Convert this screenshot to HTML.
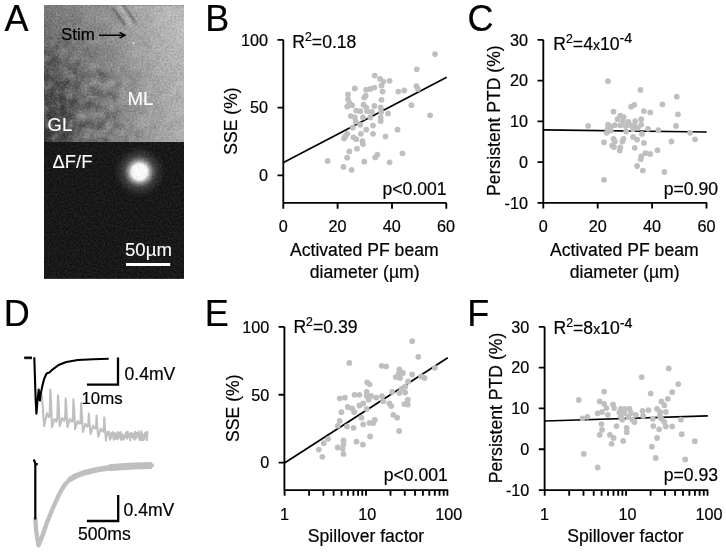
<!DOCTYPE html>
<html><head><meta charset="utf-8"><title>Figure</title>
<style>
html,body{margin:0;padding:0;background:#fff;}
svg{display:block;will-change:transform;}
text{font-family:"Liberation Sans",Arial,sans-serif;fill:#000;stroke:#000;stroke-width:.2px;}
.t{font-size:16.2px;}
.l{font-size:17.6px;}
.P{font-size:36px;}
.w{font-size:18.4px;fill:#fff;stroke:#fff;stroke-width:.1px;}
.ax{stroke:#000;stroke-width:1.85;fill:none;}
.ln{stroke:#000;stroke-width:1.7;fill:none;}
</style></head><body>
<svg width="726" height="552" viewBox="0 0 726 552">
<defs>
<linearGradient id="gT" x1="0" y1="0" x2="1" y2="0">
<stop offset="0" stop-color="#787878"/><stop offset="0.15" stop-color="#818181"/><stop offset="0.5" stop-color="#969696"/><stop offset="0.85" stop-color="#b6b6b6"/><stop offset="1" stop-color="#bcbcbc"/>
</linearGradient>
<linearGradient id="gB" x1="0" y1="0" x2="1" y2="0">
<stop offset="0" stop-color="#3c3c3c"/><stop offset="0.12" stop-color="#4c4c4c"/><stop offset="0.3" stop-color="#686868"/><stop offset="0.5" stop-color="#808080"/><stop offset="0.75" stop-color="#9c9c9c"/><stop offset="1" stop-color="#aeaeae"/>
</linearGradient>
<linearGradient id="gM" x1="0" y1="0" x2="0" y2="1"><stop offset="0" stop-color="#fff" stop-opacity="0"/><stop offset="0.15" stop-color="#fff" stop-opacity=".12"/><stop offset="0.5" stop-color="#fff" stop-opacity=".62"/><stop offset="0.8" stop-color="#fff" stop-opacity=".95"/><stop offset="1" stop-color="#fff" stop-opacity="1"/></linearGradient>
<mask id="mk" maskUnits="userSpaceOnUse" x="44" y="5" width="140" height="138"><rect x="44" y="5" width="140" height="138" fill="url(#gM)"/></mask>
<radialGradient id="spot"><stop offset="0" stop-color="#fff" stop-opacity="1"/><stop offset="0.3" stop-color="#f4f4f4" stop-opacity="1"/><stop offset="0.42" stop-color="#bbb" stop-opacity=".8"/><stop offset="0.6" stop-color="#777" stop-opacity=".45"/><stop offset="1" stop-color="#444" stop-opacity="0"/></radialGradient>
<filter id="nz" x="0" y="0" width="100%" height="100%" color-interpolation-filters="sRGB"><feTurbulence type="fractalNoise" baseFrequency="0.55" numOctaves="2" seed="3" result="n"/><feColorMatrix in="n" type="matrix" values="1 0 0 0 0  1 0 0 0 0  1 0 0 0 0  0 0 0 0 1" result="g"/><feComposite in="SourceGraphic" in2="g" operator="arithmetic" k1="0" k2="1" k3="0.26" k4="-0.13" result="c1"/><feTurbulence type="fractalNoise" baseFrequency="0.085" numOctaves="3" seed="11" result="n2"/><feColorMatrix in="n2" type="matrix" values="1 0 0 0 0  1 0 0 0 0  1 0 0 0 0  0 0 0 0 1" result="g2"/><feComposite in="c1" in2="g2" operator="arithmetic" k1="0" k2="1" k3="0.1" k4="-0.05"/></filter>
<filter id="nz2" x="0" y="0" width="100%" height="100%" color-interpolation-filters="sRGB"><feTurbulence type="fractalNoise" baseFrequency="0.5" numOctaves="2" seed="8" result="n"/><feColorMatrix in="n" type="matrix" values="1 0 0 0 0  1 0 0 0 0  1 0 0 0 0  0 0 0 0 1" result="g"/><feComposite in="SourceGraphic" in2="g" operator="arithmetic" k1="0" k2="1" k3="0.16" k4="-0.08"/></filter>
<filter id="lf" x="0" y="0" width="100%" height="100%" color-interpolation-filters="sRGB"><feTurbulence type="fractalNoise" baseFrequency="0.1" numOctaves="3" seed="5" result="n"/><feColorMatrix in="n" type="matrix" values="0 0 0 0 1  0 0 0 0 1  0 0 0 0 1  0.75 0 0 0 -0.375" result="L"/><feColorMatrix in="n" type="matrix" values="0 0 0 0 0  0 0 0 0 0  0 0 0 0 0  -0.9 0 0 0 0.45" result="D"/><feMerge><feMergeNode in="L"/><feMergeNode in="D"/></feMerge></filter>
<radialGradient id="gL" cx="0.1" cy="0.8" r="0.75"><stop offset="0" stop-color="#fff" stop-opacity="1"/><stop offset="0.5" stop-color="#fff" stop-opacity=".8"/><stop offset="0.8" stop-color="#fff" stop-opacity=".25"/><stop offset="1" stop-color="#fff" stop-opacity="0"/></radialGradient>
<mask id="mkL" maskUnits="userSpaceOnUse" x="44" y="5" width="140" height="138"><rect x="44" y="5" width="140" height="138" fill="url(#gL)"/></mask>
<filter id="bl"><feGaussianBlur stdDeviation="1.1"/></filter>
</defs>
<rect width="726" height="552" fill="#fff"/>

<g filter="url(#nz)"><rect x="44" y="5.3" width="140" height="137.2" fill="url(#gT)"/><rect x="44" y="5.3" width="140" height="137.2" fill="url(#gB)" mask="url(#mk)"/><g mask="url(#mkL)"><rect x="44" y="5.3" width="140" height="137.2" fill="#000" filter="url(#lf)"/></g><g filter="url(#bl)"><path d="M116 5.3L122.5 5.3L133.5 23L130 27Z" fill="#c4c4c4" opacity=".55"/><path d="M112.5 8L125.5 25.5" stroke="#484848" stroke-width="1.6" opacity=".8"/><path d="M123 5.5L135.7 23.5" stroke="#444" stroke-width="1.8" opacity=".85"/><circle cx="68" cy="88" r="5" fill="#fff" opacity=".08"/><circle cx="80" cy="119" r="6" fill="#fff" opacity=".12"/><circle cx="86" cy="133" r="6" fill="#fff" opacity=".12"/><circle cx="60" cy="100" r="7" fill="#000" opacity=".1"/><circle cx="139" cy="118" r="5" fill="#fff" opacity=".08"/><circle cx="75" cy="105" r="5" fill="#000" opacity=".1"/></g></g>
<g filter="url(#nz2)"><rect x="44" y="142" width="140" height="136.8" fill="#191919"/><circle cx="139.5" cy="171.8" r="26" fill="url(#spot)"/></g>
<circle cx="133.6" cy="43.1" r="1.3" fill="#e4e4e4" opacity=".75"/>
<text class="P" x="4.4" y="30.6">A</text>
<text class="t" x="61" y="39.9" style="font-size:16.9px">Stim</text>
<path class="ln" style="stroke-width:1.45" d="M99 35.2H124.6M119.6 32.4L125 35.2L119.6 38"/>
<text class="w" x="127.4" y="104.9" style="font-size:18.7px">ML</text>
<text class="w" x="47.6" y="130.8">GL</text>
<text class="w" x="52.5" y="167.5" style="font-size:18.4px">ΔF/F</text>
<text class="w" x="125" y="255.8" style="font-size:18.6px">50µm</text>
<rect x="126" y="263" width="44.2" height="3" fill="#fff"/>
<text class="P" x="205.2" y="30.6">B</text>
<path class="ln" d="M283.5 162.6L446.7 77.2"/>
<g fill="#bfbfbf"><circle cx="435.0" cy="54.1" r="2.9"/><circle cx="416.8" cy="69.3" r="2.9"/><circle cx="374.7" cy="75.6" r="2.9"/><circle cx="380.1" cy="78.9" r="2.9"/><circle cx="383.4" cy="81.6" r="2.9"/><circle cx="389.6" cy="80.8" r="2.9"/><circle cx="381.5" cy="85.7" r="2.9"/><circle cx="416.5" cy="86.2" r="2.9"/><circle cx="417.9" cy="88.9" r="2.9"/><circle cx="354.8" cy="88.4" r="2.9"/><circle cx="366.2" cy="89.7" r="2.9"/><circle cx="370.3" cy="88.9" r="2.9"/><circle cx="374.4" cy="87.6" r="2.9"/><circle cx="382.6" cy="91.6" r="2.9"/><circle cx="398.3" cy="91.6" r="2.9"/><circle cx="404.3" cy="90.5" r="2.9"/><circle cx="348.0" cy="94.3" r="2.9"/><circle cx="365.7" cy="95.7" r="2.9"/><circle cx="364.3" cy="97.6" r="2.9"/><circle cx="348.0" cy="99.2" r="2.9"/><circle cx="381.5" cy="99.8" r="2.9"/><circle cx="349.4" cy="103.0" r="2.9"/><circle cx="352.1" cy="105.2" r="2.9"/><circle cx="347.2" cy="106.6" r="2.9"/><circle cx="363.5" cy="104.7" r="2.9"/><circle cx="366.2" cy="107.4" r="2.9"/><circle cx="374.4" cy="106.0" r="2.9"/><circle cx="380.7" cy="107.4" r="2.9"/><circle cx="411.4" cy="105.2" r="2.9"/><circle cx="356.2" cy="110.7" r="2.9"/><circle cx="360.3" cy="111.2" r="2.9"/><circle cx="367.1" cy="111.2" r="2.9"/><circle cx="372.0" cy="112.0" r="2.9"/><circle cx="381.2" cy="112.0" r="2.9"/><circle cx="388.0" cy="113.4" r="2.9"/><circle cx="430.1" cy="115.3" r="2.9"/><circle cx="350.8" cy="116.1" r="2.9"/><circle cx="354.8" cy="117.4" r="2.9"/><circle cx="363.0" cy="117.4" r="2.9"/><circle cx="370.3" cy="117.4" r="2.9"/><circle cx="380.7" cy="117.4" r="2.9"/><circle cx="355.7" cy="121.5" r="2.9"/><circle cx="380.7" cy="121.0" r="2.9"/><circle cx="360.3" cy="124.8" r="2.9"/><circle cx="373.0" cy="125.6" r="2.9"/><circle cx="352.7" cy="127.5" r="2.9"/><circle cx="366.2" cy="129.7" r="2.9"/><circle cx="397.5" cy="129.7" r="2.9"/><circle cx="347.2" cy="133.8" r="2.9"/><circle cx="360.8" cy="133.8" r="2.9"/><circle cx="373.0" cy="133.8" r="2.9"/><circle cx="345.3" cy="136.5" r="2.9"/><circle cx="344.0" cy="138.6" r="2.9"/><circle cx="353.5" cy="137.3" r="2.9"/><circle cx="356.2" cy="139.2" r="2.9"/><circle cx="385.5" cy="136.5" r="2.9"/><circle cx="362.4" cy="141.1" r="2.9"/><circle cx="363.0" cy="144.1" r="2.9"/><circle cx="357.0" cy="148.7" r="2.9"/><circle cx="349.4" cy="151.4" r="2.9"/><circle cx="402.4" cy="153.3" r="2.9"/><circle cx="377.4" cy="154.7" r="2.9"/><circle cx="375.2" cy="157.4" r="2.9"/><circle cx="347.2" cy="157.7" r="2.9"/><circle cx="327.7" cy="160.9" r="2.9"/><circle cx="364.3" cy="161.7" r="2.9"/><circle cx="389.6" cy="162.3" r="2.9"/><circle cx="343.4" cy="166.9" r="2.9"/><circle cx="351.6" cy="169.9" r="2.9"/></g>
<path class="ax" d="M283.3 39.8V202.9H446.5M277.5 39.8H283.3M277.5 107.6H283.3M277.5 175.4H283.3M283.3 202.9V208.7M337.6 202.9V208.7M392 202.9V208.7M446.3 202.9V208.7"/>
<text class="t" text-anchor="end" x="268" y="45.6">100</text>
<text class="t" text-anchor="end" x="268" y="113.4">50</text>
<text class="t" text-anchor="end" x="268" y="181.2">0</text>
<text class="t" text-anchor="middle" x="283.3" y="232.2">0</text>
<text class="t" text-anchor="middle" x="337.4" y="232.2">20</text>
<text class="t" text-anchor="middle" x="391.8" y="232.2">40</text>
<text class="t" text-anchor="middle" x="446" y="232.2">60</text>
<text class="l" x="292.3" y="48.1">R<tspan dy="-7.4" font-size="12.3">2</tspan><tspan dy="7.4">=0.18</tspan></text>
<text class="l" text-anchor="end" x="446.5" y="194.6">p&lt;0.001</text>
<text class="l" text-anchor="middle" transform="translate(237.4 121) rotate(-90)">SSE (%)</text>
<text class="l" text-anchor="middle" x="364.3" y="255.9">Activated PF beam</text>
<text class="l" text-anchor="middle" x="364.7" y="277.9">diameter (µm)</text>
<text class="P" x="467.6" y="30.6">C</text>
<path class="ln" d="M543.4 129.8L706.7 132"/>
<g fill="#bfbfbf"><circle cx="608.0" cy="81.2" r="2.9"/><circle cx="640.4" cy="89.9" r="2.9"/><circle cx="676.8" cy="96.7" r="2.9"/><circle cx="662.4" cy="104.3" r="2.9"/><circle cx="634.4" cy="104.8" r="2.9"/><circle cx="631.1" cy="106.7" r="2.9"/><circle cx="613.5" cy="111.6" r="2.9"/><circle cx="643.9" cy="111.1" r="2.9"/><circle cx="650.2" cy="112.4" r="2.9"/><circle cx="677.9" cy="114.3" r="2.9"/><circle cx="620.3" cy="115.7" r="2.9"/><circle cx="623.8" cy="117.1" r="2.9"/><circle cx="617.6" cy="119.2" r="2.9"/><circle cx="623.0" cy="121.1" r="2.9"/><circle cx="628.4" cy="122.0" r="2.9"/><circle cx="635.2" cy="121.1" r="2.9"/><circle cx="641.2" cy="119.2" r="2.9"/><circle cx="588.2" cy="125.8" r="2.9"/><circle cx="608.0" cy="124.7" r="2.9"/><circle cx="610.8" cy="126.6" r="2.9"/><circle cx="614.8" cy="125.2" r="2.9"/><circle cx="620.3" cy="125.2" r="2.9"/><circle cx="625.7" cy="126.0" r="2.9"/><circle cx="630.3" cy="125.2" r="2.9"/><circle cx="634.4" cy="125.2" r="2.9"/><circle cx="641.2" cy="124.7" r="2.9"/><circle cx="676.0" cy="126.0" r="2.9"/><circle cx="607.5" cy="129.3" r="2.9"/><circle cx="610.8" cy="130.7" r="2.9"/><circle cx="606.7" cy="132.8" r="2.9"/><circle cx="626.2" cy="131.5" r="2.9"/><circle cx="633.0" cy="129.3" r="2.9"/><circle cx="637.9" cy="127.9" r="2.9"/><circle cx="648.0" cy="128.8" r="2.9"/><circle cx="658.3" cy="130.1" r="2.9"/><circle cx="690.1" cy="132.8" r="2.9"/><circle cx="642.0" cy="133.9" r="2.9"/><circle cx="633.0" cy="136.9" r="2.9"/><circle cx="613.5" cy="138.8" r="2.9"/><circle cx="623.5" cy="138.8" r="2.9"/><circle cx="637.1" cy="139.6" r="2.9"/><circle cx="695.0" cy="139.3" r="2.9"/><circle cx="604.0" cy="142.3" r="2.9"/><circle cx="614.8" cy="141.5" r="2.9"/><circle cx="622.4" cy="141.5" r="2.9"/><circle cx="643.9" cy="142.9" r="2.9"/><circle cx="671.4" cy="141.5" r="2.9"/><circle cx="612.1" cy="145.6" r="2.9"/><circle cx="614.0" cy="147.0" r="2.9"/><circle cx="620.3" cy="147.5" r="2.9"/><circle cx="634.7" cy="147.8" r="2.9"/><circle cx="619.7" cy="150.5" r="2.9"/><circle cx="657.5" cy="150.2" r="2.9"/><circle cx="645.5" cy="153.2" r="2.9"/><circle cx="650.2" cy="154.0" r="2.9"/><circle cx="641.2" cy="156.5" r="2.9"/><circle cx="640.7" cy="159.2" r="2.9"/><circle cx="637.1" cy="166.0" r="2.9"/><circle cx="642.8" cy="170.6" r="2.9"/><circle cx="664.3" cy="172.0" r="2.9"/><circle cx="604.0" cy="179.8" r="2.9"/></g>
<path class="ax" d="M543.3 39.8V202.8H707M537.5 39.8H543.3M537.5 80.55H543.3M537.5 121.3H543.3M537.5 162.05H543.3M537.5 202.8H543.3M543.3 202.8V208.6M597.7 202.8V208.6M652.1 202.8V208.6M706.5 202.8V208.6"/>
<text class="t" text-anchor="end" x="528" y="45.6">30</text>
<text class="t" text-anchor="end" x="528" y="86.3">20</text>
<text class="t" text-anchor="end" x="528" y="127.1">10</text>
<text class="t" text-anchor="end" x="528" y="167.9">0</text>
<text class="t" text-anchor="end" x="528" y="208.6">-10</text>
<text class="t" text-anchor="middle" x="543.3" y="232.2">0</text>
<text class="t" text-anchor="middle" x="597.7" y="232.2">20</text>
<text class="t" text-anchor="middle" x="652.1" y="232.2">40</text>
<text class="t" text-anchor="middle" x="706.5" y="232.2">60</text>
<text class="l" x="553.3" y="50">R<tspan dy="-7.4" font-size="12.3">2</tspan><tspan dy="7.4">=4</tspan><tspan font-size="14">x</tspan>10<tspan dy="-6.8" font-size="14.3">-4</tspan></text>
<text class="l" text-anchor="end" x="718" y="194.6">p=0.90</text>
<text class="l" text-anchor="middle" transform="translate(500.3 120.6) rotate(-90)">Persistent PTD (%)</text>
<text class="l" text-anchor="middle" x="624.3" y="255.9">Activated PF beam</text>
<text class="l" text-anchor="middle" x="624.7" y="277.9">diameter (µm)</text>
<text class="P" x="204.8" y="326">E</text>
<path class="ln" d="M284.5 463L447.8 357.7"/>
<g fill="#bfbfbf"><circle cx="412.2" cy="341.2" r="2.9"/><circle cx="418.3" cy="356.8" r="2.9"/><circle cx="349.3" cy="362.9" r="2.9"/><circle cx="381.7" cy="365.8" r="2.9"/><circle cx="386.1" cy="366.4" r="2.9"/><circle cx="434.8" cy="367.8" r="2.9"/><circle cx="399.4" cy="369.3" r="2.9"/><circle cx="398.6" cy="373.6" r="2.9"/><circle cx="402.9" cy="373.0" r="2.9"/><circle cx="412.2" cy="374.5" r="2.9"/><circle cx="395.7" cy="377.1" r="2.9"/><circle cx="400.0" cy="378.0" r="2.9"/><circle cx="421.2" cy="376.5" r="2.9"/><circle cx="424.6" cy="378.0" r="2.9"/><circle cx="408.1" cy="381.4" r="2.9"/><circle cx="367.2" cy="382.3" r="2.9"/><circle cx="369.6" cy="384.3" r="2.9"/><circle cx="405.2" cy="386.7" r="2.9"/><circle cx="401.4" cy="389.0" r="2.9"/><circle cx="366.7" cy="391.9" r="2.9"/><circle cx="392.2" cy="391.9" r="2.9"/><circle cx="399.4" cy="393.0" r="2.9"/><circle cx="405.2" cy="392.5" r="2.9"/><circle cx="354.5" cy="394.8" r="2.9"/><circle cx="359.4" cy="394.8" r="2.9"/><circle cx="366.7" cy="395.9" r="2.9"/><circle cx="371.0" cy="395.9" r="2.9"/><circle cx="376.2" cy="397.7" r="2.9"/><circle cx="382.0" cy="396.2" r="2.9"/><circle cx="339.7" cy="398.3" r="2.9"/><circle cx="344.9" cy="397.7" r="2.9"/><circle cx="407.8" cy="399.7" r="2.9"/><circle cx="368.7" cy="399.7" r="2.9"/><circle cx="383.2" cy="401.2" r="2.9"/><circle cx="363.2" cy="403.5" r="2.9"/><circle cx="389.3" cy="403.5" r="2.9"/><circle cx="404.3" cy="404.1" r="2.9"/><circle cx="407.8" cy="404.6" r="2.9"/><circle cx="359.4" cy="405.5" r="2.9"/><circle cx="391.3" cy="406.1" r="2.9"/><circle cx="347.8" cy="407.0" r="2.9"/><circle cx="352.2" cy="408.4" r="2.9"/><circle cx="366.7" cy="409.0" r="2.9"/><circle cx="341.4" cy="412.2" r="2.9"/><circle cx="354.2" cy="412.2" r="2.9"/><circle cx="393.3" cy="414.8" r="2.9"/><circle cx="397.1" cy="417.7" r="2.9"/><circle cx="361.4" cy="417.7" r="2.9"/><circle cx="374.8" cy="420.0" r="2.9"/><circle cx="339.7" cy="420.9" r="2.9"/><circle cx="369.6" cy="422.9" r="2.9"/><circle cx="373.3" cy="422.9" r="2.9"/><circle cx="363.2" cy="424.3" r="2.9"/><circle cx="337.7" cy="425.8" r="2.9"/><circle cx="347.0" cy="426.4" r="2.9"/><circle cx="353.6" cy="427.8" r="2.9"/><circle cx="399.1" cy="431.0" r="2.9"/><circle cx="370.1" cy="436.5" r="2.9"/><circle cx="328.1" cy="438.8" r="2.9"/><circle cx="343.5" cy="440.3" r="2.9"/><circle cx="356.5" cy="441.7" r="2.9"/><circle cx="323.8" cy="443.2" r="2.9"/><circle cx="343.5" cy="444.1" r="2.9"/><circle cx="362.9" cy="444.6" r="2.9"/><circle cx="337.7" cy="447.5" r="2.9"/><circle cx="342.6" cy="448.4" r="2.9"/><circle cx="318.8" cy="449.6" r="2.9"/><circle cx="343.5" cy="453.9" r="2.9"/><circle cx="322.3" cy="456.8" r="2.9"/></g>
<path class="ax" d="M284.4 326.8V490.1H448.2M278.6 326.8H284.4M278.6 394.7H284.4M278.6 462.6H284.4M284.6 490.1V495.70000000000005M309.1 490.1V495.70000000000005M323.4 490.1V495.70000000000005M333.6 490.1V495.70000000000005M341.5 490.1V495.70000000000005M347.9 490.1V495.70000000000005M353.4 490.1V495.70000000000005M358.1 490.1V495.70000000000005M362.3 490.1V495.70000000000005M366.0 490.1V495.70000000000005M390.5 490.1V495.70000000000005M404.8 490.1V495.70000000000005M415.0 490.1V495.70000000000005M422.9 490.1V495.70000000000005M429.3 490.1V495.70000000000005M434.8 490.1V495.70000000000005M439.5 490.1V495.70000000000005M443.7 490.1V495.70000000000005M447.4 490.1V495.70000000000005"/>
<text class="t" text-anchor="end" x="269.3" y="332.6">100</text>
<text class="t" text-anchor="end" x="269.3" y="400.5">50</text>
<text class="t" text-anchor="end" x="269.3" y="468.4">0</text>
<text class="t" text-anchor="middle" x="284.4" y="519.9">1</text>
<text class="t" text-anchor="middle" x="367.3" y="519.9">10</text>
<text class="t" text-anchor="middle" x="448.8" y="519.9">100</text>
<text class="l" x="293.4" y="333.3">R<tspan dy="-7.4" font-size="12.3">2</tspan><tspan dy="7.4">=0.39</tspan></text>
<text class="l" text-anchor="end" x="447.8" y="481.3">p&lt;0.001</text>
<text class="l" text-anchor="middle" transform="translate(239 408.2) rotate(-90)">SSE (%)</text>
<text class="l" text-anchor="middle" x="366" y="542.2">Spillover factor</text>
<text class="P" x="467.2" y="326">F</text>
<path class="ln" d="M545 421L707.8 415.9"/>
<g fill="#bfbfbf"><circle cx="668.7" cy="368.4" r="2.9"/><circle cx="641.7" cy="377.1" r="2.9"/><circle cx="678.3" cy="384.1" r="2.9"/><circle cx="604.1" cy="391.6" r="2.9"/><circle cx="672.2" cy="392.2" r="2.9"/><circle cx="650.7" cy="393.6" r="2.9"/><circle cx="578.8" cy="400.0" r="2.9"/><circle cx="599.7" cy="401.4" r="2.9"/><circle cx="667.8" cy="398.8" r="2.9"/><circle cx="661.4" cy="401.4" r="2.9"/><circle cx="604.1" cy="403.8" r="2.9"/><circle cx="613.0" cy="404.3" r="2.9"/><circle cx="664.3" cy="405.2" r="2.9"/><circle cx="606.4" cy="408.1" r="2.9"/><circle cx="614.2" cy="408.1" r="2.9"/><circle cx="620.9" cy="409.0" r="2.9"/><circle cx="625.2" cy="409.0" r="2.9"/><circle cx="629.6" cy="409.0" r="2.9"/><circle cx="642.6" cy="411.0" r="2.9"/><circle cx="648.4" cy="410.1" r="2.9"/><circle cx="657.1" cy="409.0" r="2.9"/><circle cx="660.0" cy="411.9" r="2.9"/><circle cx="665.8" cy="411.9" r="2.9"/><circle cx="597.7" cy="413.3" r="2.9"/><circle cx="602.0" cy="411.9" r="2.9"/><circle cx="619.4" cy="412.5" r="2.9"/><circle cx="624.3" cy="413.0" r="2.9"/><circle cx="631.0" cy="413.0" r="2.9"/><circle cx="607.8" cy="414.8" r="2.9"/><circle cx="635.9" cy="414.8" r="2.9"/><circle cx="587.5" cy="416.8" r="2.9"/><circle cx="582.6" cy="418.3" r="2.9"/><circle cx="620.9" cy="416.8" r="2.9"/><circle cx="628.1" cy="416.8" r="2.9"/><circle cx="643.2" cy="415.9" r="2.9"/><circle cx="660.0" cy="415.9" r="2.9"/><circle cx="661.4" cy="418.8" r="2.9"/><circle cx="622.3" cy="419.7" r="2.9"/><circle cx="632.5" cy="419.7" r="2.9"/><circle cx="652.8" cy="418.8" r="2.9"/><circle cx="680.9" cy="419.7" r="2.9"/><circle cx="634.5" cy="422.0" r="2.9"/><circle cx="664.3" cy="422.0" r="2.9"/><circle cx="601.4" cy="424.1" r="2.9"/><circle cx="616.5" cy="426.1" r="2.9"/><circle cx="653.3" cy="426.1" r="2.9"/><circle cx="665.8" cy="426.4" r="2.9"/><circle cx="672.2" cy="426.4" r="2.9"/><circle cx="626.7" cy="427.8" r="2.9"/><circle cx="659.1" cy="429.3" r="2.9"/><circle cx="602.0" cy="429.9" r="2.9"/><circle cx="626.7" cy="432.2" r="2.9"/><circle cx="599.7" cy="434.8" r="2.9"/><circle cx="609.9" cy="434.8" r="2.9"/><circle cx="681.7" cy="434.2" r="2.9"/><circle cx="613.6" cy="438.0" r="2.9"/><circle cx="657.1" cy="438.0" r="2.9"/><circle cx="623.2" cy="440.9" r="2.9"/><circle cx="694.8" cy="441.2" r="2.9"/><circle cx="611.6" cy="443.8" r="2.9"/><circle cx="651.9" cy="446.7" r="2.9"/><circle cx="583.8" cy="453.9" r="2.9"/><circle cx="655.7" cy="458.0" r="2.9"/><circle cx="685.2" cy="459.4" r="2.9"/><circle cx="597.7" cy="467.5" r="2.9"/></g>
<path class="ax" d="M544.6 326.8V490.1H708.2M538.8 326.8H544.6M538.8 367.6H544.6M538.8 408.4H544.6M538.8 449.2H544.6M538.8 490.1H544.6M544.7 490.1V495.70000000000005M569.2 490.1V495.70000000000005M583.5 490.1V495.70000000000005M593.7 490.1V495.70000000000005M601.6 490.1V495.70000000000005M608.0 490.1V495.70000000000005M613.5 490.1V495.70000000000005M618.2 490.1V495.70000000000005M622.4 490.1V495.70000000000005M626.1 490.1V495.70000000000005M650.6 490.1V495.70000000000005M664.9 490.1V495.70000000000005M675.1 490.1V495.70000000000005M683.0 490.1V495.70000000000005M689.4 490.1V495.70000000000005M694.9 490.1V495.70000000000005M699.6 490.1V495.70000000000005M703.8 490.1V495.70000000000005M707.5 490.1V495.70000000000005"/>
<text class="t" text-anchor="end" x="529.3" y="332.6">30</text>
<text class="t" text-anchor="end" x="529.3" y="373.4">20</text>
<text class="t" text-anchor="end" x="529.3" y="414.1">10</text>
<text class="t" text-anchor="end" x="529.3" y="454.9">0</text>
<text class="t" text-anchor="end" x="529.3" y="495.6">-10</text>
<text class="t" text-anchor="middle" x="544.6" y="519.9">1</text>
<text class="t" text-anchor="middle" x="627.6" y="519.9">10</text>
<text class="t" text-anchor="middle" x="709.1" y="519.9">100</text>
<text class="l" x="553.5" y="334.4">R<tspan dy="-7.4" font-size="12.3">2</tspan><tspan dy="7.4">=8</tspan><tspan font-size="14">x</tspan>10<tspan dy="-6.8" font-size="14.3">-4</tspan></text>
<text class="l" text-anchor="end" x="718" y="480.9">p=0.93</text>
<text class="l" text-anchor="middle" transform="translate(501.6 408) rotate(-90)">Persistent PTD (%)</text>
<text class="l" text-anchor="middle" x="625.4" y="542.2">Spillover factor</text>
<text class="P" x="3.7" y="326">D</text>
<polyline points="24.2,358.5 32.0,358.5" stroke="#bfbfbf" stroke-width="2.4" fill="none"/>
<polyline points="41.6,394.4 42.8,407.8 44.1,426.2 47.0,413.2 48.9,417.1 49.7,416.5 50.3,389.5 51.0,401.1 52.0,427.1 54.5,419.0 56.4,421.7 57.4,417.5 58.0,395.3 58.8,406.9 59.7,426.2 62.2,418.1 64.2,420.8 65.1,418.5 65.7,398.2 66.5,409.8 67.4,427.1 69.9,419.0 71.9,421.7 72.8,420.4 73.4,399.2 74.2,410.7 75.1,429.1 77.7,421.0 79.6,423.7 80.5,423.3 81.1,403.0 81.9,414.6 82.9,432.0 85.4,423.9 87.3,426.6 88.3,425.2 88.8,413.6 89.6,425.2 90.6,433.9 93.1,425.8 95.0,428.5 96.0,428.1 96.6,415.6 97.3,427.1 98.3,436.8 100.8,428.7 102.7,431.4 103.7,431.6 104.3,417.5 105.0,429.1 106.0,440.2 105.8,440.6 106.8,434.8 107.4,433.4 107.8,432.1 108.2,434.8 108.6,432.6 109.0,431.8 109.5,434.9 109.9,439.7 110.3,438.6 110.7,438.3 111.2,433.2 111.6,436.1 112.0,433.7 112.4,432.8 112.9,432.2 113.3,433.2 113.7,439.8 114.1,438.9 114.6,438.6 115.0,438.6 115.4,433.0 115.8,434.0 116.3,437.0 116.7,438.0 117.1,439.1 117.5,439.3 118.0,432.0 118.4,436.8 118.8,437.4 119.2,435.9 119.7,432.8 120.1,435.6 120.5,432.0 120.9,439.8 121.3,439.2 121.8,436.2 122.2,434.0 122.6,439.6 123.0,436.5 123.5,439.3 123.9,439.0 124.3,435.9 124.7,435.0 125.2,436.7 125.6,435.2 126.0,432.7 126.4,434.0 126.9,438.7 127.3,431.6 127.7,431.6 128.1,437.0 128.6,433.8 129.0,436.1 129.4,435.5 129.8,434.4 130.3,440.4 130.7,433.0 131.1,435.0 131.5,433.1 132.0,437.0 132.4,433.7 132.8,434.5 133.2,438.1 133.7,434.1 134.1,436.3 134.5,439.6 134.9,432.1 135.3,431.8 135.8,433.3 136.2,438.3 136.6,436.9 137.0,433.4 137.5,434.2 137.9,432.8 138.3,435.4 138.7,431.6 139.2,437.6 139.6,439.5 140.0,440.0 140.4,438.0 140.9,440.1 141.3,431.3 141.7,433.9 142.1,440.1 142.6,438.4 143.0,435.0 143.4,439.9 143.8,436.9 144.3,438.8 144.7,433.9 145.1,433.0 145.5,435.3 146.0,432.4 146.4,434.7 146.8,440.1 147.2,434.2 147.7,431.3" stroke="#bfbfbf" stroke-width="2.1" fill="none" stroke-linejoin="round"/>
<polyline points="24.2,357.7 32.0,357.7" stroke="#000" stroke-width="2.3" fill="none"/>
<polyline points="34.3,357.3 34.8,373.1 35.6,398.2 36.4,413.6 37.4,402.1 38.7,389.5 39.3,395.3 39.9,400.5 40.8,393.4 42.2,386.6 44.1,378.9 46.6,373.5 49.3,372.6 52.8,369.3 58.6,365.0 66.3,362.0 77.8,360.0 93.3,359.3 108.7,358.7" stroke="#000" stroke-width="2.1" fill="none" stroke-linejoin="round"/>
<path d="M86.9 384.7H118V357.4" stroke="#000" stroke-width="2.3" fill="none"/>
<text class="l" x="124.5" y="379.7">0.4mV</text>
<text class="l" x="81.5" y="403.5" style="font-size:16.8px">10ms</text>
<polyline points="35.3,519.3 36.3,531.7 38.5,545.4 41.7,537.9 47.2,521.8 53.4,506.9 59.6,493.3 64.5,485.1 69.5,479.7 75.7,476.0 84.4,472.7 96.8,469.8 109.2,467.8 121.6,466.8 134.0,466.0 151.8,465.5" stroke="#bfbfbf" stroke-width="4.4" fill="none" stroke-linejoin="round" stroke-linecap="round"/>
<polyline points="69.5,479.7 75.7,476.0 84.4,472.7 96.8,469.8 109.2,467.8 121.6,466.8 134.0,466.0 151.8,465.5" stroke="#bfbfbf" stroke-width="5.6" fill="none" stroke-linejoin="round"/>
<polyline points="109.2,467.8 121.6,466.8 134.0,466.0 151.8,465.5" stroke="#bfbfbf" stroke-width="7" fill="none" stroke-linejoin="round"/>
<path d="M33.8 459.5L35.3 463.5V519.5M35.3 463.5L37.8 464.5" stroke="#000" stroke-width="2.2" fill="none"/>
<path d="M86.9 521H118.2V495" stroke="#000" stroke-width="2.3" fill="none"/>
<text class="l" x="123.5" y="515.6">0.4mV</text>
<text class="l" x="78" y="540.4">500ms</text>
</svg></body></html>
